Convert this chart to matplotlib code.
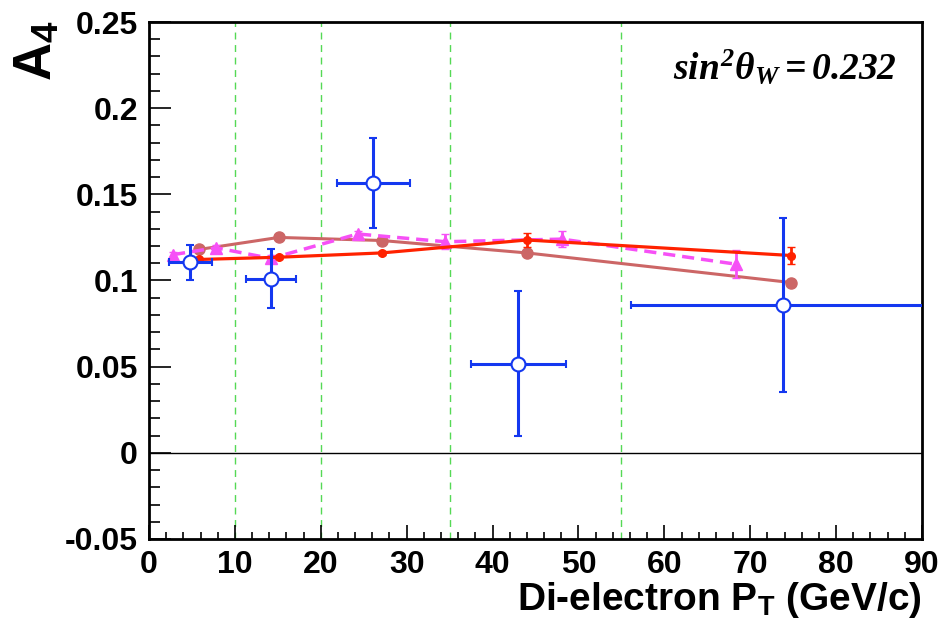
import matplotlib
matplotlib.use("Agg")
import matplotlib.pyplot as plt
from matplotlib.ticker import MultipleLocator
import numpy as np

plt.rcParams['font.family'] = ['Liberation Sans', 'DejaVu Sans']
plt.rcParams['font.weight'] = 'bold'
plt.rcParams['mathtext.fontset'] = 'custom'
plt.rcParams['mathtext.rm'] = 'Liberation Serif:bold:italic'
plt.rcParams['mathtext.it'] = 'Liberation Serif:bold:italic'
plt.rcParams['mathtext.sf'] = 'Liberation Sans:bold'

# Data (open circles, data with errors)
data_x = [4.8, 14.2, 26.1, 43.0, 73.8]
data_y = [0.1105, 0.101, 0.1565, 0.0518, 0.086]
data_xerr = [2.5, 2.9, 4.25, 5.55, 17.7]
data_yerr = [0.0100, 0.0170, 0.0260, 0.0420, 0.0505]

# Red curve
red_x = [5.8, 15.1, 27.1, 44.0, 74.8]
red_y = [0.1122, 0.1135, 0.1160, 0.1235, 0.1145]
red_yerr = [0.0010, 0.0012, 0.0012, 0.0040, 0.0050]

# Brown curve
brown_x = [5.8, 15.1, 27.1, 44.0, 74.8]
brown_y = [0.1180, 0.1250, 0.1232, 0.1160, 0.0988]

# Magenta dashed curve
mag_x = [2.8, 7.8, 14.2, 24.3, 34.5, 48.1, 68.3]
mag_y = [0.1150, 0.1190, 0.1128, 0.1270, 0.1225, 0.1240, 0.1095]
mag_yerr = [0.0015, 0.0015, 0.0020, 0.0020, 0.0045, 0.0045, 0.0080]

# Bin boundaries
bin_edges = [10, 20, 35, 55]

# Tick labels
x_ticks = [0, 10, 20, 30, 40, 50, 60, 70, 80, 90]
x_ticklabels = ['0', '10', '20', '30', '40', '50', '60', '70', '80', '90']
y_ticks = [-0.05, 0, 0.05, 0.1, 0.15, 0.2, 0.25]
y_ticklabels = ['-0.05', '0', '0.05', '0.1', '0.15', '0.2', '0.25']

fig = plt.figure(figsize=(9.42, 6.23), dpi=100)
ax = fig.add_axes([149/942, 1-539/623, (922-149)/942, (539-22)/623])

for xb in bin_edges:
    ax.axvline(xb, color='#55d955', lw=1.0, ls=(0, (5, 4)), zorder=1)
ax.axhline(0.0, color='black', lw=1.0, zorder=1)

ax.plot(brown_x, brown_y, color='#cc6666', lw=2.2, marker='o', ms=8, zorder=3)
ax.errorbar(mag_x, mag_y, yerr=mag_yerr, color='#f650f6', lw=2.5, ls=(0, (3.5, 2)),
            marker='^', ms=8, capsize=3, elinewidth=2.0, zorder=4)
ax.errorbar(red_x, red_y, yerr=red_yerr, color='#ff2200', lw=2.3, marker='o', ms=5.5,
            capsize=3, elinewidth=2.0, zorder=5)
ax.errorbar(data_x, data_y, xerr=data_xerr, yerr=data_yerr, fmt='o', color='#1438f0',
            mfc='white', mec='#1438f0', mew=1.5, ms=10, elinewidth=2.2, capsize=3,
            capthick=2.2, zorder=6)

ax.set_xticks(x_ticks)
ax.set_xticklabels(x_ticklabels)
ax.set_yticks(y_ticks)
ax.set_yticklabels(y_ticklabels)
ax.xaxis.set_minor_locator(MultipleLocator(2))
ax.yaxis.set_minor_locator(MultipleLocator(0.01))
ax.set_xlim(0, 90)
ax.set_ylim(-0.05, 0.25)

ax.tick_params(axis='x', which='major', direction='in', length=10, width=1.2, labelsize=23, pad=8)
ax.tick_params(axis='x', which='minor', direction='in', length=5, width=1.2)
ax.tick_params(axis='y', which='major', direction='in', length=16, width=1.2, labelsize=23, pad=8)
ax.tick_params(axis='y', which='minor', direction='in', length=8, width=1.2)
for lab in ax.get_xticklabels() + ax.get_yticklabels():
    lab.set_fontweight('bold')
for s in ax.spines.values():
    s.set_linewidth(2.0)

ax.text(0.968, 0.913, r"$sin^{2}\theta_{W} = 0.232$", transform=ax.transAxes,
        ha='right', va='center', fontsize=27)

fig.text(922/942, 1-600/623, r"Di-electron P$_{\mathsf{T}}$ (GeV/c)", ha='right', va='center',
         fontsize=28, fontweight='bold')
fig.text(38/942, 1-20/623, r"$\mathsf{A}_{\mathsf{4}}$", rotation=90, ha='center', va='top',
         fontsize=38)

fig.savefig("out.png", dpi=100)
